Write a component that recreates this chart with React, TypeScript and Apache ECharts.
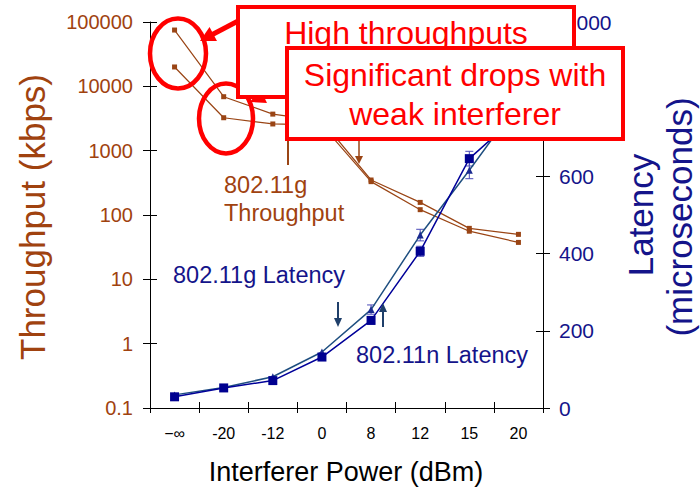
import React, { useEffect, useRef } from "react";
import * as echarts from "echarts";

const categories = ["−∞", "-20", "-12", "0", "8", "12", "15", "20"];
const throughputN = [75000, 6900, 3700, 2900, 350, 157, 62, 50];
const throughputG = [20000, 3250, 2600, 2500, 330, 121, 56, 37.5];
const latencyG = [34, 53, 81, 145, 255, 448, 616, 790];
const latencyN = [29, 52, 71, 132, 227, 406, 646, 760];
const latencyErrG = [0, 0, 0, 0, 12, 15, 22, 20];
const latencyErrN = [0, 0, 0, 0, 10, 13, 19, 20];

const FONT = "Liberation Sans, Arial, sans-serif";
const BROWN = "#A0420F";
const BROWN_LINE = "#9A4515";
const NAVY = "#14148A";
const RED = "#FF0000";

function errData(vals: number[], errs: number[]) {
  return vals
    .map((v, i) => [i, v - errs[i], v + errs[i]])
    .filter((d, i) => errs[i] > 0);
}

function errRender(color: string) {
  return (params: any, api: any) => {
    const lo = api.coord([api.value(0), api.value(1)]);
    const hi = api.coord([api.value(0), api.value(2)]);
    const w = 4;
    const st = { stroke: color, lineWidth: 1 };
    return {
      type: "group",
      children: [
        { type: "line", shape: { x1: lo[0], y1: lo[1], x2: hi[0], y2: hi[1] }, style: st },
        { type: "line", shape: { x1: lo[0] - w, y1: lo[1], x2: lo[0] + w, y2: lo[1] }, style: st },
        { type: "line", shape: { x1: hi[0] - w, y1: hi[1], x2: hi[0] + w, y2: hi[1] }, style: st },
      ],
    };
  };
}

function arrow(x1: number, y1: number, x2: number, y2: number, color: string, lw: number, hl: number, hw: number) {
  const dx = x2 - x1, dy = y2 - y1;
  const len = Math.sqrt(dx * dx + dy * dy);
  const ux = dx / len, uy = dy / len;
  const nx = -uy, ny = ux;
  const bx = x2 - ux * hl, by = y2 - uy * hl;
  return [
    { type: "line", z: 100, shape: { x1, y1, x2: bx + ux * 1, y2: by + uy * 1 }, style: { stroke: color, lineWidth: lw } },
    {
      type: "polygon", z: 100,
      shape: { points: [[x2, y2], [bx + nx * hw, by + ny * hw], [bx - nx * hw, by - ny * hw]] },
      style: { fill: color },
    },
  ];
}

function txt(text: string, x: number, y: number, size: number, color: string, align: string = "center", rotation = 0, scaleX = 1) {
  return {
    type: "text", z: 101, x, y, rotation, scaleX,
    style: {
      text, x: 0, y: 0, fill: color, font: `${size}px ${FONT}`,
      align, verticalAlign: "middle", textAlign: align, textVerticalAlign: "middle",
    },
  };
}

export default function App() {
  const ref = useRef<HTMLDivElement>(null);
  useEffect(() => {
    const chart = echarts.init(ref.current!, undefined, { renderer: "svg" });
    const option: any = {
      animation: false,
      backgroundColor: "#ffffff",
      grid: { left: 150, right: 157, top: 22, bottom: 79 },
      xAxis: [
        {
          type: "category", data: categories, boundaryGap: true, position: "bottom",
          axisLine: { lineStyle: { color: "#000", width: 1 } },
          axisTick: { show: true, length: 5, lineStyle: { color: "#000" } },
          axisLabel: { color: "#000", fontSize: 16, fontFamily: FONT, margin: 17 },
          splitLine: { show: false },
        },
        {
          type: "category", data: categories, boundaryGap: true, position: "bottom",
          axisLine: { show: false },
          axisTick: { show: true, inside: true, length: 6, lineStyle: { color: "#000" } },
          axisLabel: { show: false },
          splitLine: { show: false },
        },
      ],
      yAxis: [
        {
          type: "log", logBase: 10, min: 0.1, max: 100000, position: "left", splitNumber: 6,
          axisLine: { show: true, lineStyle: { color: "#000" } },
          axisTick: { show: true, length: 7, lineStyle: { color: "#000" } },
          axisLabel: {
            color: BROWN, fontSize: 20, fontFamily: FONT, margin: 17,
            formatter: (v: number) => String(Number(v.toPrecision(6))),
          },
          splitLine: { show: false },
        },
        {
          type: "value", min: 0, max: 1000, interval: 200, position: "right",
          axisLine: { show: true, lineStyle: { color: "#000" } },
          axisTick: { show: true, length: 7, lineStyle: { color: "#000" } },
          axisLabel: { color: NAVY, fontSize: 21, fontFamily: FONT, margin: 16 },
          splitLine: { show: false },
        },
        {
          type: "log", logBase: 10, min: 0.1, max: 100000, position: "left", splitNumber: 6,
          axisLine: { show: false },
          axisTick: { show: true, inside: true, length: 7, lineStyle: { color: "#000" } },
          axisLabel: { show: false },
          splitLine: { show: false },
        },
        {
          type: "value", min: 0, max: 1000, interval: 200, position: "right",
          axisLine: { show: false },
          axisTick: { show: true, inside: true, length: 7, lineStyle: { color: "#000" } },
          axisLabel: { show: false },
          splitLine: { show: false },
        },
      ],
      series: [
        {
          name: "802.11n Throughput", type: "line", data: throughputN, yAxisIndex: 0,
          symbol: "rect", symbolSize: 5,
          lineStyle: { color: BROWN_LINE, width: 1.2 }, itemStyle: { color: BROWN_LINE },
        },
        {
          name: "802.11g Throughput", type: "line", data: throughputG, yAxisIndex: 0,
          symbol: "rect", symbolSize: 5,
          lineStyle: { color: BROWN_LINE, width: 1.2 }, itemStyle: { color: BROWN_LINE },
        },
        {
          name: "802.11g Latency", type: "line", data: latencyG, yAxisIndex: 1,
          symbol: "triangle", symbolSize: 7,
          lineStyle: { color: "#1F4F80", width: 1.5 }, itemStyle: { color: "#1A2A90" },
        },
        {
          name: "802.11n Latency", type: "line", data: latencyN, yAxisIndex: 1,
          symbol: "rect", symbolSize: 9,
          lineStyle: { color: "#000099", width: 1.5 }, itemStyle: { color: "#000090" },
        },
        {
          name: "g err", type: "custom", yAxisIndex: 1, renderItem: errRender("#4A4AB8"),
          data: errData(latencyG, latencyErrG), encode: { x: 0, y: [1, 2] }, z: 3,
        },
        {
          name: "n err", type: "custom", yAxisIndex: 1, renderItem: errRender("#4A4AB8"),
          data: errData(latencyN, latencyErrN), encode: { x: 0, y: [1, 2] }, z: 3,
        },
      ],
      graphic: [
        // axis titles
        txt("Throughput (kbps)", 32, 217, 35, BROWN, "center", Math.PI / 2),
        txt("Latency", 640, 215, 35, NAVY, "center", Math.PI / 2),
        txt("(microseconds)", 679, 217, 35, NAVY, "center", Math.PI / 2),
        txt("Interferer Power (dBm)", 346, 472, 27, "#000", "center"),
        // series annotations
        txt("802.11g", 224, 185, 23.5, BROWN, "left"),
        txt("Throughput", 224, 213, 23.5, BROWN, "left"),
        txt("802.11g Latency", 173, 275, 23.5, NAVY, "left"),
        txt("802.11n Latency", 356, 355, 23.5, NAVY, "left"),
        { type: "line", z: 100, shape: { x1: 288, y1: 138, x2: 288, y2: 165 }, style: { stroke: BROWN_LINE, lineWidth: 2 } },
        ...arrow(359, 138, 359, 164, BROWN_LINE, 1.5, 8, 4),
        ...arrow(338, 302, 338, 327, "#1F3F6A", 2, 9, 4),
        ...arrow(383, 327, 383, 303, "#1F3F6A", 2, 9, 4),
        // circles
        { type: "ellipse", z: 100, shape: { cx: 178, cy: 53.5, rx: 28, ry: 35 }, style: { fill: "none", stroke: RED, lineWidth: 4.5 } },
        { type: "ellipse", z: 100, shape: { cx: 226, cy: 118.5, rx: 27, ry: 35 }, style: { fill: "none", stroke: RED, lineWidth: 4.5 } },
        // red arrows
        ...arrow(240, 20, 200, 41, RED, 5, 15, 8),
        ...arrow(289, 84, 250, 102, RED, 5, 15, 8),
        // callout boxes
        { type: "rect", z: 100, shape: { x: 238, y: 7, width: 336, height: 90 }, style: { fill: "#fff", stroke: RED, lineWidth: 4 } },
        txt("High throughputs", 406, 33, 32, RED, "center"),
        txt("with no interferer", 406, 72, 32, RED, "center"),
        { type: "rect", z: 102, shape: { x: 287, y: 48, width: 336, height: 91 }, style: { fill: "#fff", stroke: RED, lineWidth: 4 } },
        { ...txt("Significant drops with", 455, 75, 32, RED, "center"), z: 103 },
        { ...txt("weak interferer", 455, 114, 32, RED, "center"), z: 103 },
      ],
    };
    chart.setOption(option);
    return () => chart.dispose();
  }, []);
  return <div ref={ref} style={{ position: "absolute", left: 0, top: 0, width: 700, height: 487 }} />;
}
